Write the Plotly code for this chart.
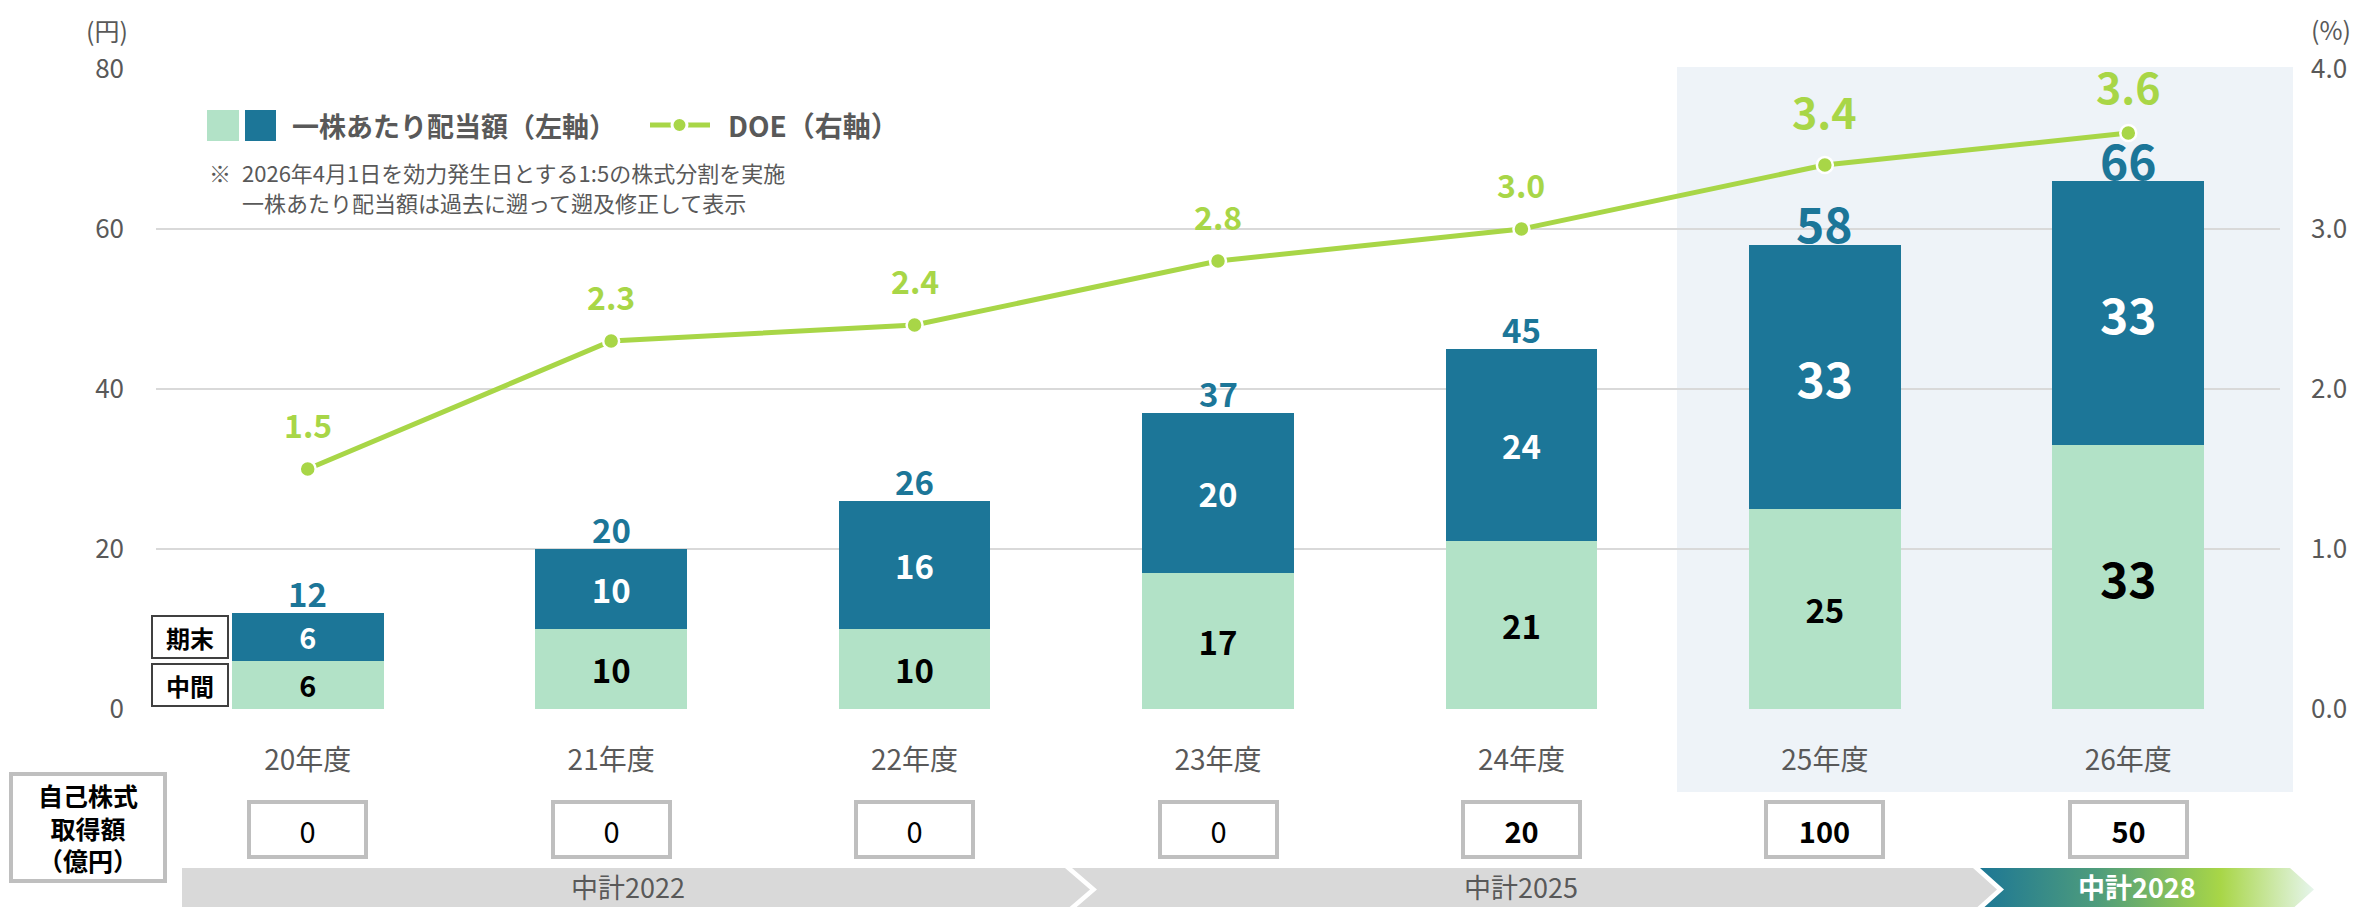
import plotly.graph_objects as go

# ---------------- data ----------------
categories = ["20年度", "21年度", "22年度", "23年度", "24年度", "25年度", "26年度"]
interim = [6, 10, 10, 17, 21, 25, 33]          # 中間
year_end = [6, 10, 16, 20, 24, 33, 33]         # 期末
totals = [12, 20, 26, 37, 45, 58, 66]          # 一株あたり配当額
doe = [1.5, 2.3, 2.4, 2.8, 3.0, 3.4, 3.6]      # DOE (%)
buyback = [0, 0, 0, 0, 20, 100, 50]            # 自己株式取得額 (億円)
plans = ["中計2022", "中計2025", "中計2028"]
y_ticks = [0, 20, 40, 60, 80]
y2_ticks = [0.0, 1.0, 2.0, 3.0, 4.0]

# ---------------- styles ----------------
W, H = 2362, 907
FONT = "Noto Sans CJK JP"
LIGHT = "#B2E2C7"
TEAL = "#1C7698"
GREEN = "#A8D647"
TXT = "#595959"
GRID = "#D9D9D9"
HIGHLIGHT = "#EEF3F8"
BOXC = "#BFBFBF"
BAND = "#D9D9D9"

interim_size = [33, 33, 33, 33, 33, 33, 48]
yearend_size = [33, 33, 33, 33, 33, 48, 48]
total_size = [33, 33, 33, 33, 33, 48, 48]
total_shift = [20, 20, 20, 20, 20, 23, 22]
doe_size = [32, 32, 32, 32, 32, 43, 43]
doe_shift = [45, 45, 45, 45, 45, 55, 48]


def px(x):
    return x / W


def py(y):
    return 1 - y / H


def paper_text(x, y, text, size, color=TXT, xanchor="center", **kw):
    return dict(x=px(x), y=py(y), xref="paper", yref="paper", text=text, showarrow=False,
                xanchor=xanchor, yanchor="middle",
                font=dict(family=FONT, size=size, color=color), **kw)


fig = go.Figure()

fig.add_trace(go.Bar(
    x=categories, y=interim, name="中間", marker=dict(color=LIGHT, line=dict(width=0)),
    text=interim, texttemplate="<b>%{text}</b>", textposition="inside",
    insidetextanchor="middle", textangle=0,
    textfont=dict(family=FONT, color="black", size=interim_size),
    showlegend=False, hoverinfo="skip"))
fig.add_trace(go.Bar(
    x=categories, y=year_end, name="期末", marker=dict(color=TEAL, line=dict(width=0)),
    text=year_end, texttemplate="<b>%{text}</b>", textposition="inside",
    insidetextanchor="middle", textangle=0,
    textfont=dict(family=FONT, color="white", size=yearend_size),
    showlegend=False, hoverinfo="skip"))
fig.add_trace(go.Scatter(
    x=categories, y=doe, yaxis="y2", mode="lines+markers", name="DOE",
    line=dict(color=GREEN, width=5),
    marker=dict(size=16, color=GREEN, line=dict(color="white", width=2.5)),
    showlegend=False, hoverinfo="skip", cliponaxis=False))

# ---- plan bands (decorative) on full-page overlay axes ----
top, mid, bot = 868, 889.5, 911
band_polys = [
    ([182, 1065, 1090, 1065, 182, 182], [top, top, mid, bot, bot, top]),
    ([1072, 1973, 1997, 1973, 1072, 1097, 1072], [top, top, mid, bot, bot, mid, top]),
    ([1980, 2290, 2314, 2290, 1980, 2004, 1980], [top, top, mid, bot, bot, mid, top]),
]
for i, (bx, by) in enumerate(band_polys):
    kw = dict(fillcolor=BAND) if i < 2 else dict(fillgradient=dict(
        type="horizontal",
        colorscale=[[0, "#1D7795"], [0.35, "#4E9C7C"], [0.72, "#A8D647"], [1, "#E6F5EC"]]))
    fig.add_trace(go.Scatter(x=bx, y=by, xaxis="x3", yaxis="y3", mode="lines",
                             line=dict(width=0, color="rgba(0,0,0,0)"), fill="toself",
                             showlegend=False, hoverinfo="skip", **kw))

ann = []
# totals above bars
for c, t, s, sh in zip(categories, totals, total_size, total_shift):
    ann.append(dict(x=c, y=t, xref="x", yref="y", text=f"<b>{t}</b>", showarrow=False,
                    xanchor="center", yanchor="middle", yshift=sh,
                    font=dict(family=FONT, size=s, color=TEAL)))
# DOE labels
for c, d, s, sh in zip(categories, doe, doe_size, doe_shift):
    ann.append(dict(x=c, y=d, xref="x", yref="y2", text=f"<b>{d:.1f}</b>", showarrow=False,
                    xanchor="center", yanchor="middle", yshift=sh,
                    font=dict(family=FONT, size=s, color=GREEN)))
# 期末 / 中間 tags
for lab, yv in [("期末", interim[0] + year_end[0] / 2), ("中間", interim[0] / 2)]:
    ann.append(dict(x=categories[0], y=yv, xref="x", yref="y", xshift=-118,
                    xanchor="center", yanchor="middle",
                    text=f"<b>{lab}</b>", showarrow=False, width=72, height=38,
                    bgcolor="white", bordercolor="#404040", borderwidth=2, borderpad=1,
                    font=dict(family=FONT, size=24, color="black")))
# buyback row
ann.append(paper_text(88, 827.5, "<b>自己株式<br>取得額<br>（億円）</b>", 25, color="black",
                      width=150, height=103, bordercolor=BOXC, borderwidth=4, borderpad=0,
                      bgcolor="white"))
for c, v in zip(categories, buyback):
    t = f"<b>{v}</b>" if v > 0 else f"{v}"
    ann.append(dict(x=c, y=py(829.5), xref="x", yref="paper", text=t, showarrow=False,
                    xanchor="center", yanchor="middle",
                    width=113, height=51, bordercolor=BOXC, borderwidth=4, borderpad=0,
                    bgcolor="white", font=dict(family=FONT, size=29, color="black")))
# plan labels
for p, xc, col, b in zip(plans, [628, 1521, 2137], [TXT, TXT, "white"], [False, False, True]):
    ann.append(paper_text(xc, 886, f"<b>{p}</b>" if b else p, 27, color=col))
# axis unit labels
ann.append(paper_text(107, 30, "(円)", 25))
ann.append(paper_text(2331, 29, "(%)", 25))
# legend texts
ann.append(paper_text(290, 125, "<b>一株あたり配当額（左軸）</b>", 27, xanchor="left"))
ann.append(paper_text(726, 125, "<b>DOE（右軸）</b>", 28, xanchor="left"))
# note
ann.append(paper_text(207, 172, "※", 22, xanchor="left"))
ann.append(paper_text(240, 172, "2026年4月1日を効力発生日とする1:5の株式分割を実施", 22, xanchor="left"))
ann.append(paper_text(240, 202, "一株あたり配当額は過去に遡って遡及修正して表示", 22, xanchor="left"))

shapes = [
    # highlighted forecast years background
    dict(type="rect", xref="paper", yref="paper", x0=px(1677), x1=px(2293),
         y0=py(792), y1=py(67), fillcolor=HIGHLIGHT, line=dict(width=0), layer="below"),
    # legend swatches
    dict(type="rect", xref="paper", yref="paper", x0=px(207), x1=px(239), y0=py(141), y1=py(110),
         fillcolor=LIGHT, line=dict(width=0)),
    dict(type="rect", xref="paper", yref="paper", x0=px(245), x1=px(276), y0=py(141), y1=py(110),
         fillcolor=TEAL, line=dict(width=0)),
    dict(type="line", xref="paper", yref="paper", x0=px(650), x1=px(710), y0=py(125), y1=py(125),
         line=dict(color=GREEN, width=5)),
    dict(type="circle", xref="paper", yref="paper", x0=px(672), x1=px(687), y0=py(132.5), y1=py(117.5),
         fillcolor=GREEN, line=dict(color="white", width=3)),
]

fig.update_layout(
    width=W, height=H, autosize=False, template="none",
    margin=dict(l=0, r=0, t=0, b=0, pad=0),
    paper_bgcolor="white", plot_bgcolor="rgba(0,0,0,0)",
    barmode="stack", bargap=0.5,
    font=dict(family=FONT, color=TXT),
    showlegend=False,
    xaxis=dict(domain=[px(156), px(2280)], range=[-0.5, 6.5], type="category",
               showgrid=False, zeroline=False, showline=False, ticks="",
               tickfont=dict(family=FONT, size=28, color=TXT), ticklabelstandoff=32,
               automargin=False, fixedrange=True),
    yaxis=dict(domain=[py(709), py(69)], range=[0, 80], tickvals=y_ticks,
               showgrid=True, gridcolor=GRID, gridwidth=2, zeroline=False, showline=False,
               ticks="", tickfont=dict(family=FONT, size=26, color=TXT),
               ticklabelstandoff=31, automargin=False, fixedrange=True),
    yaxis2=dict(overlaying="y", side="right", anchor="x", range=[0, 4], tickvals=y2_ticks,
                ticktext=[f"{v:.1f}" for v in y2_ticks],
                showgrid=False, zeroline=False, showline=False, ticks="",
                tickfont=dict(family=FONT, size=26, color=TXT),
                ticklabelstandoff=30, automargin=False, fixedrange=True),
    xaxis3=dict(domain=[0, 1], range=[0, W], anchor="y3", visible=False, fixedrange=True),
    yaxis3=dict(domain=[0, 1], range=[H, 0], anchor="x3", visible=False, fixedrange=True),
    annotations=ann, shapes=shapes,
)

fig.write_html("out.html", config={"displayModeBar": False, "staticPlot": True},
               post_script="document.body.style.margin='0px';")
